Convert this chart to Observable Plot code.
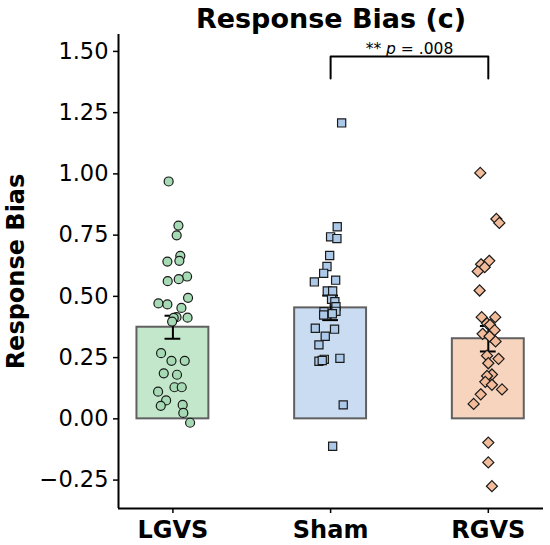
<!DOCTYPE html>
<html><head><meta charset="utf-8">
<script src="https://cdn.jsdelivr.net/npm/d3@7"></script>
<script src="https://cdn.jsdelivr.net/npm/@observablehq/plot@0.6"></script>
<style>body{margin:0;background:#fff} svg{font-family:"DejaVu Sans"}</style>
</head><body><div id="chart"></div>
<script>
const groups = ["LGVS", "Sham", "RGVS"];
const means = [0.374, 0.453, 0.327];
const sems = [0.047, 0.050, 0.052];
const barFills = ["#c3e7cb", "#c9dcf1", "#f6d4bd"];
const dotFills = ["#a6dab4", "#adc9ea", "#f2bc9b"];
const symbols = ["circle", "square", "diamond2"];
const dotSizes = [4.5, 4.6, 5.0];

const lgvsValues = [0.969,0.789,0.749,0.665,0.642,0.645,0.581,0.570,0.562,0.494,0.471,0.467,0.453,0.413,0.415,0.412,0.397,0.268,0.237,0.237,0.186,0.180,0.129,0.129,0.111,0.075,0.053,0.057,0.024,-0.016];
const lgvsJitter = [-0.027,0.035,0.024,0.047,-0.035,0.041,0.090,0.037,-0.033,0.096,-0.092,-0.035,0.054,0.093,0.023,0.005,-0.005,-0.075,-0.009,0.075,-0.058,0.026,0.010,0.056,-0.094,-0.043,-0.077,0.062,0.066,0.109];
const shamValues = [1.208,0.784,0.743,0.736,0.667,0.622,0.594,0.559,0.566,0.522,0.522,0.488,0.478,0.458,0.439,0.437,0.424,0.429,0.370,0.366,0.337,0.302,0.243,0.235,0.238,0.247,0.057,-0.112];
const shamJitter = [0.070,0.042,0.000,0.040,-0.006,-0.023,-0.044,-0.103,0.032,-0.021,0.013,0.006,0.027,0.034,0.034,-0.042,-0.044,0.011,-0.097,0.025,-0.034,-0.074,-0.040,-0.074,-0.053,0.059,0.080,0.013];
const rgvsValues = [1.004,0.816,0.800,0.645,0.631,0.619,0.602,0.524,0.415,0.415,0.390,0.384,0.362,0.347,0.337,0.316,0.258,0.245,0.227,0.181,0.175,0.151,0.139,0.120,0.100,0.061,-0.097,-0.178,-0.275];
const rgvsJitter = [-0.051,0.051,0.070,0.006,-0.046,-0.023,-0.067,-0.055,-0.042,0.044,-0.008,0.011,0.040,-0.036,0.008,0.046,-0.008,0.065,0.000,0.023,-0.008,-0.019,0.023,0.087,-0.048,-0.093,0.000,0.000,0.023];

const yTicks = [-0.25, 0, 0.25, 0.5, 0.75, 1.0, 1.25, 1.5];
const xDomain = [-0.345, 2.35];
const yDomain = [-0.366, 1.569];
const barHalfWidth = 0.228;
const capHalfWidth = 0.05;
const titleText = "Response Bias (c)";
const yLabel = "Response Bias";
const bracket = {from: 1, to: 2, top: 1.479, tip: 1.389, label: "** p = .008"};

const bars = groups.map((g, i) => ({i, g, mean: means[i], sem: sems[i]}));
const points = [
  ...lgvsValues.map((v, k) => ({g: 0, x: 0 + lgvsJitter[k], y: v})),
  ...shamValues.map((v, k) => ({g: 1, x: 1 + shamJitter[k], y: v})),
  ...rgvsValues.map((v, k) => ({g: 2, x: 2 + rgvsJitter[k], y: v}))
];
const bracketPath = [
  {x: bracket.from, y: bracket.tip}, {x: bracket.from, y: bracket.top},
  {x: bracket.to, y: bracket.top}, {x: bracket.to, y: bracket.tip}
];

const chart = Plot.plot({
  width: 550, height: 545,
  marginLeft: 118, marginRight: 7, marginTop: 34, marginBottom: 37,
  style: {fontFamily: "DejaVu Sans", background: "white", color: "black"},
  x: {type: "linear", domain: xDomain},
  y: {domain: yDomain},
  r: {type: "identity"},
  marks: [
    Plot.rectY(bars, {x1: d => d.i - barHalfWidth, x2: d => d.i + barHalfWidth, y1: 0, y2: "mean",
      fill: d => barFills[d.i], stroke: "#606060", strokeWidth: 2}),
    Plot.ruleX(bars, {x: "i", y1: d => d.mean - d.sem, y2: d => d.mean + d.sem, stroke: "black", strokeWidth: 2}),
    Plot.ruleY(bars, {y: d => d.mean + d.sem, x1: d => d.i - capHalfWidth, x2: d => d.i + capHalfWidth, stroke: "black", strokeWidth: 2}),
    Plot.ruleY(bars, {y: d => d.mean - d.sem, x1: d => d.i - capHalfWidth, x2: d => d.i + capHalfWidth, stroke: "black", strokeWidth: 2}),
    Plot.dot(points, {x: "x", y: "y", r: d => dotSizes[d.g], symbol: d => symbols[d.g], fill: d => dotFills[d.g],
      stroke: "#1a1a1a", strokeWidth: 1.2}),
    Plot.line(bracketPath, {x: "x", y: "y", stroke: "black", strokeWidth: 2, clip: false}),
    Plot.text([bracket.label], {x: (bracket.from + bracket.to) / 2, y: bracket.top, dy: -3, lineAnchor: "bottom",
      fontSize: 15.5, fill: "black", className: "annot"}),
    Plot.ruleX([xDomain[0]], {stroke: "black", strokeWidth: 2}),
    Plot.ruleY([yDomain[0]], {stroke: "black", strokeWidth: 2}),
    Plot.axisY({ticks: yTicks, tickFormat: d3.format(".2f"), tickSize: 5, tickPadding: 5, fontSize: 22.5,
      label: null, strokeWidth: 1.5, fill: "black"}),
    Plot.axisX({ticks: [0, 1, 2], tickFormat: i => groups[i], tickSize: 5, tickPadding: 7, fontSize: 24,
      fontWeight: "bold", label: null, strokeWidth: 1.5, fill: "black"}),
    Plot.text([titleText], {frameAnchor: "top", lineAnchor: "bottom", dy: -7, fontSize: 27, fontWeight: "bold", fill: "black"}),
    Plot.text([yLabel], {frameAnchor: "left", textAnchor: "middle", rotate: -90, dx: -102, fontSize: 24, fontWeight: "bold", fill: "black"})
  ]
});
document.getElementById("chart").appendChild(chart);
const t = chart.querySelector("g.annot text");
if (t) { t.innerHTML = '** <tspan font-style="italic">p</tspan> = .008'; }
</script>
</body></html>
